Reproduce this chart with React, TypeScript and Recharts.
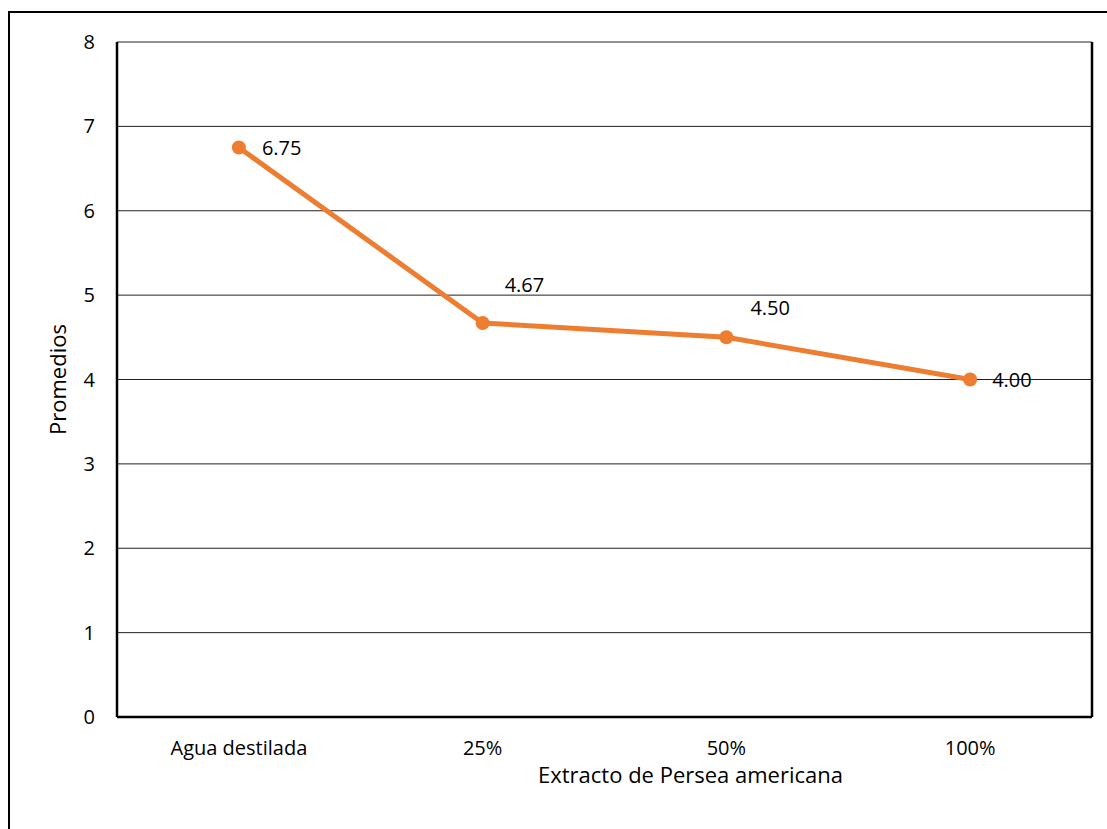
import React from 'react';
import { LineChart, Line, XAxis, YAxis, CartesianGrid, LabelList, Label } from 'recharts';

const categories = ['Agua destilada', '25%', '50%', '100%'];
const promedios = [6.75, 4.67, 4.5, 4.0];
const yTicks = [0, 1, 2, 3, 4, 5, 6, 7, 8];
const labelOffsets = [
  { dx: 23, dy: 0 },
  { dx: 22, dy: -38 },
  { dx: 24, dy: -30 },
  { dx: 22, dy: 0 },
];

const data = categories.map((c, i) => ({ name: c, value: promedios[i] }));
const FONT = '"Open Sans", Lato, sans-serif';

const PointLabel = (props: any) => {
  const { x, y, value, index } = props;
  const o = labelOffsets[index] || { dx: 20, dy: 0 };
  return (
    <text x={x + o.dx} y={y + o.dy} dominantBaseline="central" fontSize={20} fontFamily={FONT} fill="#000">
      {Number(value).toFixed(2)}
    </text>
  );
};

export default function App() {
  return (
    <div style={{ position: 'absolute', left: 0, top: 0, width: 1107, height: 829, background: '#fff', overflow: 'hidden' }}>
      <div style={{ position: 'absolute', left: 8, top: 11, width: 1120, height: 900, borderTop: '2px solid #000', borderLeft: '2px solid #000' }} />
      <div style={{ position: 'absolute', left: 0, top: 0 }}>
        <LineChart width={1107} height={829} data={data} margin={{ top: 42, right: 0, bottom: 52, left: 0 }}>
          <CartesianGrid vertical={false} stroke="#222" strokeWidth={1} />
          <XAxis
            dataKey="name"
            scale="band"
            tickLine={false}
            axisLine={{ stroke: '#000', strokeWidth: 2.5 }}
            tickMargin={18}
            height={60}
            tick={{ fontSize: 20, fontFamily: FONT, fill: '#000' }}
            interval={0}
          >
            <Label value="Extracto de Persea americana" position="insideBottom" offset={-6} dx={86} style={{ fontSize: 22, fontFamily: FONT, fill: '#000' }} />
          </XAxis>
          <XAxis xAxisId="top" orientation="top" dataKey="name" scale="band" height={0} tick={false} tickLine={false} axisLine={{ stroke: '#000', strokeWidth: 2.5 }} />
          <YAxis
            domain={[0, 8]}
            ticks={yTicks}
            tickLine={false}
            axisLine={{ stroke: '#000', strokeWidth: 2.5 }}
            width={117}
            tickMargin={16}
            tick={{ fontSize: 20, fontFamily: FONT, fill: '#000' }}
          >
            <Label value="Promedios" angle={-90} position="insideLeft" offset={58} style={{ fontSize: 22, fontFamily: FONT, fill: '#000', textAnchor: 'middle' }} />
          </YAxis>
          <YAxis yAxisId="right" orientation="right" width={15} tick={false} tickLine={false} axisLine={{ stroke: '#000', strokeWidth: 2.5 }} />
          <Line
            type="linear"
            dataKey="value"
            stroke="#ED7D31"
            strokeWidth={5}
            dot={{ r: 7, fill: '#ED7D31', stroke: '#ED7D31', strokeWidth: 0 }}
            isAnimationActive={false}
          >
            <LabelList dataKey="value" content={PointLabel} />
          </Line>
        </LineChart>
      </div>
    </div>
  );
}
